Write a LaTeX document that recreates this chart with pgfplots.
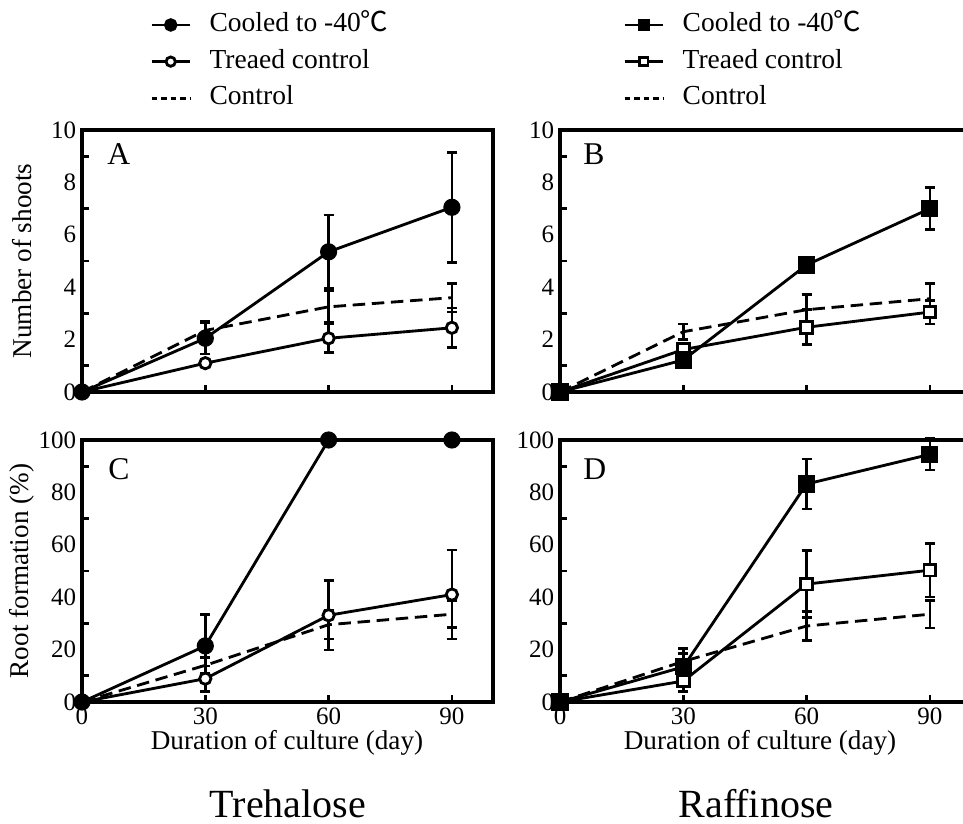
\documentclass[border=0pt]{standalone}
\usepackage{fontspec}
\setmainfont{Liberation Serif}
\newfontfamily\cjk{Noto Sans CJK SC}
\usepackage{pgfplots}
\usepackage{pgfplotstable}
\pgfplotsset{compat=1.18}

% panel A: trehalose, shoots
\pgfplotstableread{
x y e
0 0 0
30 2.05 0.6
60 5.35 1.4
90 7.05 2.1
}\Acool
\pgfplotstableread{
x y e
0 0 0
30 1.1 0
60 2.05 0.55
90 2.45 0.75
}\Atreat
\pgfplotstableread{
x y e
0 0 0
30 2.35 0.35
60 3.25 0.6
90 3.6 0.55
}\Actrl
% panel B: raffinose, shoots
\pgfplotstableread{
x y e
0 0 0
30 1.22 0.2
60 4.85 0.12
90 7.0 0.8
}\Bcool
\pgfplotstableread{
x y e
0 0 0
30 1.62 0.15
60 2.47 0.67
90 3.05 0.45
}\Btreat
\pgfplotstableread{
x y e
0 0 0
30 2.3 0.3
60 3.14 0.58
90 3.56 0.57
}\Bctrl
% panel C: trehalose, roots
\pgfplotstableread{
x y e
0 0 0
30 21.4 12
60 100 0
90 100 0
}\Ccool
\pgfplotstableread{
x y e
0 0 0
30 8.9 4.8
60 33.1 13.2
90 41 17
}\Ctreat
\pgfplotstableread{
x y e
0 0 0
30 14 3
60 29.5 5.5
90 33.5 5
}\Cctrl
% panel D: raffinose, roots
\pgfplotstableread{
x y e
0 0 0
30 13.4 7
60 83.2 9.6
90 94.5 6
}\Dcool
\pgfplotstableread{
x y e
0 0 0
30 8 4
60 45 12.8
90 50.3 10.2
}\Dtreat
\pgfplotstableread{
x y e
0 0 0
30 15.5 3
60 29 5.5
90 33.5 5.3
}\Dctrl

\pgfplotsset{
  panel/.style={
    scale only axis, width=246.6pt, height=157.2pt,
    xmin=0, xmax=100, clip=false,
    axis line style={line width=2pt},
    tick align=inside, tick pos=left,
    major tick length=0pt, minor tick length=4pt,
    tick style={black, line width=1.6pt},
    xtick={0,30,60,90}, minor xtick={30,60,90},
    tick label style={font=\fontsize{15}{17}\selectfont},
    /pgf/number format/assume math mode=true,
    reverse legend,
    legend cell align=left,
    legend style={draw=none, fill=none, inner sep=0pt, row sep=6pt,
      font=\fontsize{16.5}{19}\selectfont,
      nodes={inner sep=0pt, text height=12pt, text depth=4pt},
      /tikz/every odd column/.append style={column sep=11pt}},
    legend image code/.code={\draw[mark repeat=2,mark phase=2,##1]
      plot coordinates {(0pt,0pt) (11.5pt,0pt) (23pt,0pt)};},
  },
  shoots/.style={panel, ymin=0, ymax=10, ytick={0,2,...,10},
    minor ytick={1,3,...,9}, xticklabels={,,,}},
  roots/.style={panel, ymin=0, ymax=100, ytick={0,20,...,100},
    minor ytick={10,30,...,90}},
  ser/.style={black, line width=1.7pt,
    error bars/y dir=both, error bars/y explicit,
    error bars/error mark=-,
    error bars/error bar style={solid, line width=1.6pt},
    error bars/error mark options={rotate=90, solid, line width=1.6pt, mark size=3pt}},
  ctrl/.style={ser, dash pattern=on 7.5pt off 4pt,
    legend image code/.code={\draw[##1, dash pattern=on 3.5pt off 2.2pt]
      (0pt,0pt) -- (23pt,0pt);}},
  cool/.style={ser, mark=*, mark size=4.3pt, mark options={solid, fill=black},
    legend image post style={mark size=3.2pt}},
  treat/.style={ser, mark=*, mark size=3.4pt, mark options={solid, fill=white},
    legend image post style={mark size=2.8pt}},
  scool/.style={ser, mark=square*, mark size=4.3pt, mark options={solid, fill=black},
    legend image post style={mark size=2.8pt}},
  streat/.style={ser, mark=square*, mark size=3.5pt, mark options={solid, fill=white},
    legend image post style={mark size=2.5pt}},
}

\begin{document}
\begin{tikzpicture}

% A
\begin{axis}[shoots, at={(49.2pt,259.2pt)}, anchor=south west,
  legend style={at={(0.165,1.453)}, anchor=north west}]
\addplot[ctrl] table[x=x, y=y, y error=e] {\Actrl};
\addlegendentry{Control}
\addplot[treat] table[x=x, y=y, y error=e] {\Atreat};
\addlegendentry{Treaed control}
\addplot[cool] table[x=x, y=y, y error=e] {\Acool};
\addlegendentry{Cooled to -40{\cjk ℃}}
\end{axis}

% B
\begin{axis}[shoots, at={(336pt,259.2pt)}, anchor=south west,
  legend style={at={(0.153,1.453)}, anchor=north west}]
\addplot[ctrl] table[x=x, y=y, y error=e] {\Bctrl};
\addlegendentry{Control}
\addplot[streat] table[x=x, y=y, y error=e] {\Btreat};
\addlegendentry{Treaed control}
\addplot[scool] table[x=x, y=y, y error=e] {\Bcool};
\addlegendentry{Cooled to -40{\cjk ℃}}
\end{axis}

% C
\begin{axis}[roots, at={(49.2pt,73.2pt)}, anchor=south west]
\addplot[ctrl] table[x=x, y=y, y error=e] {\Cctrl};
\addplot[treat] table[x=x, y=y, y error=e] {\Ctreat};
\addplot[cool] table[x=x, y=y, y error=e] {\Ccool};
\end{axis}

% D
\begin{axis}[roots, at={(336pt,73.2pt)}, anchor=south west]
\addplot[ctrl] table[x=x, y=y, y error=e] {\Dctrl};
\addplot[streat] table[x=x, y=y, y error=e] {\Dtreat};
\addplot[scool] table[x=x, y=y, y error=e] {\Dcool};
\end{axis}

\node[rotate=90, font=\fontsize{16.3}{18}\selectfont] at (13.2pt,337.8pt) {Number of shoots};
\node[rotate=90, font=\fontsize{16.3}{18}\selectfont] at (13.2pt,151.8pt) {Root formation (\%)};
\node[anchor=base, font=\fontsize{16.3}{18}\selectfont] at (172.2pt,44.4pt) {Duration of culture (day)};
\node[anchor=base, font=\fontsize{16.3}{18}\selectfont] at (456pt,44.4pt) {Duration of culture (day)};
\node[anchor=base, inner sep=0pt, font=\fontsize{24}{28}\selectfont] at (172.8pt,4pt) {Trehalose};
\node[anchor=base, inner sep=0pt, font=\fontsize{24}{28}\selectfont] at (453.6pt,4pt) {Raffinose};
\foreach \l/\x/\y in {A/64.2pt/395.4pt, B/349.8pt/395.4pt, C/64.8pt/206.4pt, D/349.8pt/206.4pt}
  \node[anchor=base west, inner sep=0pt, font=\fontsize{19}{22}\selectfont] at (\x,\y) {\l};

\pgfresetboundingbox
\useasboundingbox (0,0) rectangle (577.8pt,494.4pt);
\end{tikzpicture}
\end{document}
